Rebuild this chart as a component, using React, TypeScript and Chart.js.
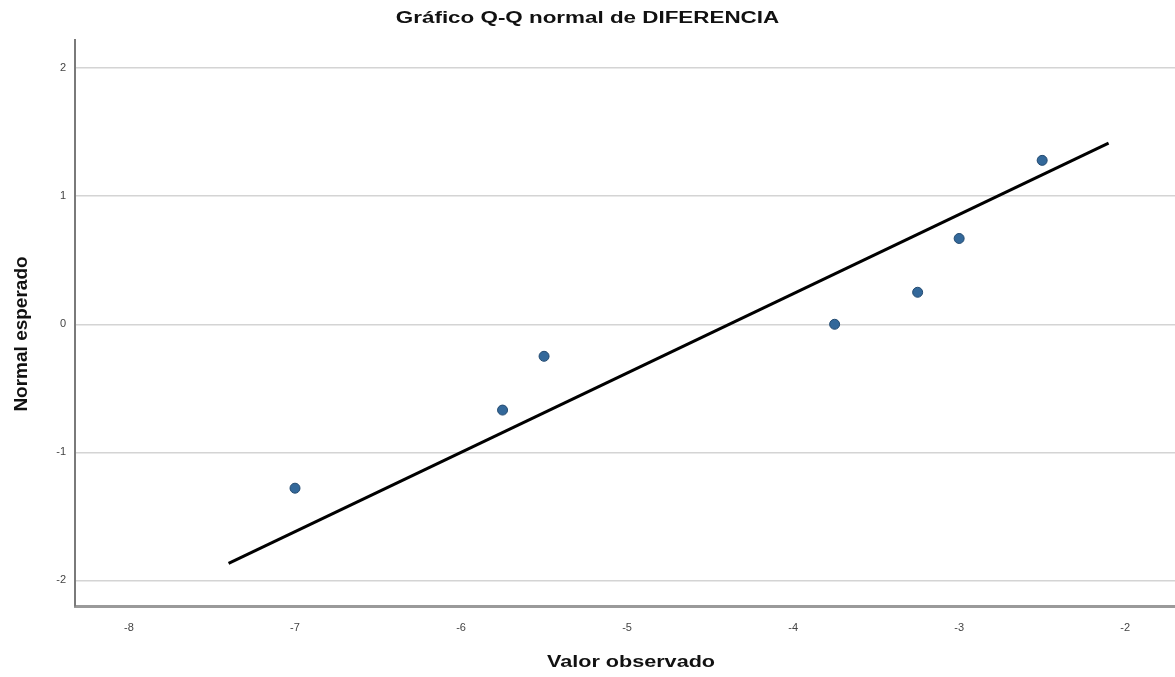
import React, { useEffect, useRef } from "react";
import { Chart, registerables } from "chart.js";

Chart.register(...registerables);

// ---- Data ----
const chartTitle = "Gráfico Q-Q normal de DIFERENCIA";
const xAxisTitle = "Valor observado";
const yAxisTitle = "Normal esperado";

const observedValues = [-7, -5.75, -5.5, -3.75, -3.25, -3, -2.5];
const expectedNormal = [-1.28, -0.67, -0.25, 0, 0.25, 0.67, 1.28];

const refLineX = [-7.4, -2.1];
const refLineY = [-1.867, 1.414];

const xTickValues = [-8, -7, -6, -5, -4, -3, -2];
const yTickValues = [-2, -1, 0, 1, 2];

const FONT = '"Liberation Sans", Arial, sans-serif';

const textPlugin = {
  id: "spssTexts",
  afterDraw(chart: any) {
    const ctx = chart.ctx as CanvasRenderingContext2D;
    const a = chart.chartArea;
    ctx.save();
    ctx.fillStyle = "#111";
    ctx.textAlign = "center";
    ctx.textBaseline = "middle";

    // title
    ctx.save();
    ctx.font = `bold 16px ${FONT}`;
    ctx.translate(chart.width / 2, 19);
    ctx.scale(1.4, 1);
    ctx.fillText(chartTitle, 0, 0);
    ctx.restore();

    // x axis title
    ctx.save();
    ctx.font = `bold 16px ${FONT}`;
    ctx.translate((a.left + a.right) / 2 + 6, 663);
    ctx.scale(1.35, 1);
    ctx.fillText(xAxisTitle, 0, 0);
    ctx.restore();

    // y axis title
    ctx.save();
    ctx.font = `bold 19px ${FONT}`;
    ctx.translate(22, (a.top + a.bottom) / 2 + 11);
    ctx.rotate(-Math.PI / 2);
    ctx.fillText(yAxisTitle, 0, 0);
    ctx.restore();

    ctx.restore();
  },
};

export default function App() {
  const canvasRef = useRef<HTMLCanvasElement | null>(null);

  useEffect(() => {
    if (!canvasRef.current) return;
    const chart = new Chart(canvasRef.current, {
      type: "scatter",
      data: {
        datasets: [
          {
            label: "Observado",
            data: observedValues.map((x, i) => ({ x, y: expectedNormal[i] })),
            backgroundColor: "#33689a",
            borderColor: "#234a70",
            borderWidth: 1,
            pointRadius: 5,
            order: 1,
          },
          {
            label: "Línea",
            data: refLineX.map((x, i) => ({ x, y: refLineY[i] })),
            showLine: true,
            borderColor: "#000000",
            borderWidth: 3,
            pointRadius: 0,
            order: 2,
          } as any,
        ],
      },
      options: {
        responsive: false,
        animation: false,
        layout: { autoPadding: false, padding: { top: 40, left: 0, right: 0, bottom: 0 } },
        plugins: {
          legend: { display: false },
          title: { display: false },
          tooltip: { enabled: false },
        },
        scales: {
          x: {
            type: "linear",
            min: -8.325,
            max: -1.7,
            afterBuildTicks: (scale: any) => {
              scale.ticks = xTickValues.map((v) => ({ value: v }));
            },
            afterFit: (scale: any) => {
              scale.height = 71;
            },
            ticks: {
              color: "#444",
              font: { family: FONT, size: 11 },
              padding: 15,
              maxRotation: 0,
              autoSkip: false,
            },
            grid: { color: "rgba(0,0,0,0)", drawTicks: false },
            border: { display: true, color: "#9a9a9a", width: 3 },
          },
          y: {
            type: "linear",
            min: -2.2,
            max: 2.22,
            afterBuildTicks: (scale: any) => {
              scale.ticks = yTickValues.map((v) => ({ value: v }));
            },
            afterFit: (scale: any) => {
              scale.width = 75;
            },
            ticks: {
              color: "#444",
              font: { family: FONT, size: 11 },
              padding: 9,
              autoSkip: false,
            },
            grid: { color: "#d4d4d4", lineWidth: 1.5, drawTicks: false },
            border: { display: true, color: "#7a7a7a", width: 2 },
          },
        },
      },
      plugins: [textPlugin],
    });
    return () => chart.destroy();
  }, []);

  return (
    <div style={{ position: "absolute", left: 0, top: 0, width: 1175, height: 677, background: "#fff" }}>
      <canvas ref={canvasRef} width={1175} height={677} style={{ display: "block" }} />
    </div>
  );
}
